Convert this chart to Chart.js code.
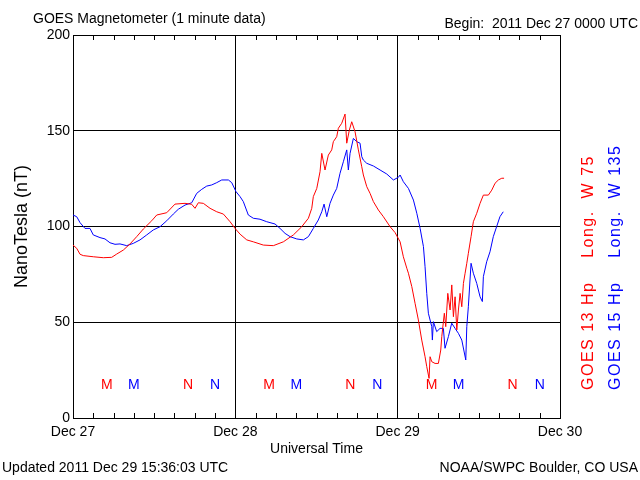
<!DOCTYPE html>
<html lang="en">
<head>
  <meta charset="UTF-8">
  <title>GOES Magnetometer</title>
  <style>
    body {
      margin: 0;
      background: white;
    }

    #wrap {
      position: relative;
      width: 640px;
      height: 480px;
      font-family: "Liberation Sans", Arial, sans-serif;
      font-size: 14px;
      color: black;
    }

    .txt {
      position: absolute;
      line-height: 16px;
      white-space: pre;
    }

    .side {
      position: absolute;
      font-size: 16px;
      line-height: 18px;
      letter-spacing: 1.5px;
      white-space: pre;
      transform: rotate(-90deg);
      transform-origin: 0 0;
    }
  </style>
</head>
<body>
  <div id="wrap">
    <canvas id="magChart" width="640" height="480"></canvas>
    <div class="txt" style="left:33px; top:10px;">GOES Magnetometer (1 minute data)</div>
    <div class="txt" style="right:2px; top:15px;">Begin:  2011 Dec 27 0000 UTC</div>
    <div class="txt" style="left:2px; top:459px;">Updated 2011 Dec 29 15:36:03 UTC</div>
    <div class="txt" style="right:2px; top:459px;">NOAA/SWPC Boulder, CO USA</div>
    <div class="side" style="left:579px; top:390px; color:#ff0000;">GOES 13 Hp    Long.  W 75</div>
    <div class="side" style="left:606px; top:390px; color:#0000ff;">GOES 15 Hp    Long.  W 135</div>
  </div>

  <script src="https://cdn.jsdelivr.net/npm/chart.js"></script>
  <script>
    // time axis in hours since 2011 Dec 27 0000 UTC
    const dayLabels = ['Dec 27', 'Dec 28', 'Dec 29', 'Dec 30'];

    // GOES 13 Hp (red)
    const hours13 = [0, 0.55, 1.04, 1.52, 3.0, 4.48, 5.72, 6.46, 7.44, 8.43, 9.42, 10.4, 11.64, 12.38, 13.86,
      15.08, 16.56, 17.55, 18.04, 18.53, 19.27, 20.26, 21.25, 22.23, 23.22, 23.96, 24.7, 25.69, 26.66, 28.14,
      29.62, 31.1, 32.58, 33.82, 34.8, 35.3, 35.53, 36.04, 36.52, 36.78, 37.26, 37.75, 38.25, 38.49, 38.99,
      39.23, 39.73, 40.22, 40.47, 40.86, 41.21, 41.7, 42.19, 42.69, 42.93, 43.43, 43.92, 44.41, 45.15, 45.89,
      46.88, 47.62, 48.36, 48.84, 49.35, 49.59, 50.09, 50.57, 51.06, 51.56, 52.05, 52.3, 52.64, 52.79, 53.04,
      53.53, 54.02, 54.37, 54.52, 54.9, 55.11, 55.41, 55.75, 56.0, 56.24, 56.49, 56.74, 56.98, 57.23, 57.48,
      57.72, 57.97, 58.22, 58.45, 58.85, 59.19, 59.69, 60.18, 60.67, 61.41, 61.91, 62.4, 62.89, 63.39, 63.73];
    const nt13 = [90.3, 88.6, 85.5, 84.8, 84.2, 83.7, 83.9, 85.6, 87.7, 90.9, 94.7, 98.7, 103, 106, 107.2,
      111.7, 112.1, 111.6, 109.5, 112.4, 112.1, 109.5, 107.7, 106.5, 102.5, 99, 96, 93, 92, 90.3,
      90, 92, 95.6, 99.9, 104.3, 109.5, 115.6, 119.9, 128.6, 138.2, 129.5, 137.3, 140, 144.3, 146.9,
      151.3, 153.9, 158.7, 143.5, 150.4, 154.7, 149.5, 140, 131.2, 126.9, 120.8, 117.3, 113, 108.6, 105.1,
      99.9, 96.8, 92, 84.2, 78.2, 75.6, 68.6, 59.9, 51.2, 40.7, 32, 26.8, 20.7, 32, 29.4,
      28.5, 28.5, 35.5, 42.5, 54.7, 47.7, 65.1, 56.4, 69.5, 52.9, 63.3, 46, 56.4, 65.1, 58.1,
      70.3, 75.6, 80.8, 86, 94.7, 102.5, 106.9, 112.1, 116.4, 116.4, 119, 122.6, 124.3, 125.2, 125.2];

    // GOES 15 Hp (blue)
    const hours15 = [0, 0.55, 1.04, 1.77, 2.51, 3.0, 3.99, 4.73, 5.47, 6.21, 6.95, 7.94, 8.92, 9.91, 10.9,
      11.87, 12.87, 13.86, 14.83, 15.57, 16.56, 17.55, 18.29, 19.03, 19.77, 20.51, 21.25, 21.99, 22.97, 23.47,
      24.1, 24.7, 25.18, 25.92, 26.66, 27.65, 28.64, 29.87, 30.61, 31.35, 32.09, 33.08, 34.06, 34.8, 35.53,
      36.27, 36.78, 37.12, 37.52, 38.0, 38.49, 38.99, 39.48, 39.97, 40.47, 40.71, 40.96, 41.45, 41.95, 42.44,
      42.69, 42.93, 43.43, 44.41, 45.4, 46.39, 47.37, 48.11, 48.36, 48.84, 49.59, 50.33, 50.83, 51.32, 51.81,
      52.05, 52.3, 52.54, 53.04, 53.13, 53.28, 53.77, 54.27, 54.76, 55.0, 55.5, 55.99, 56.49, 56.98, 57.48,
      58.07, 58.22, 58.45, 58.85, 59.19, 59.69, 60.18, 60.52, 60.67, 61.16, 61.65, 62.14, 62.63, 63.12, 63.61];
    const nt15 = [106, 105.1, 102, 99, 99, 95.6, 94.2, 93.5, 91.5, 90.7, 90.9, 90, 91.2, 93, 95.6,
      98.2, 99.9, 103, 106.5, 109, 111.2, 112.4, 117.3, 119.4, 121.1, 121.7, 122.9, 124.3, 124.3, 122.9,
      118.2, 115.6, 113, 106, 104.3, 103.8, 102.5, 101.3, 99, 96.4, 94.7, 93.5, 93, 94.7, 99,
      103.4, 107.7, 111.7, 105.1, 112.1, 116.4, 119.9, 127.8, 133.8, 140, 129.5, 138.2, 146, 144.3, 143.5,
      136.5, 134.7, 133, 131.6, 129.5, 127.4, 124.3, 125.7, 126.9, 123.4, 119.9, 113.8, 106.9, 99, 89.5,
      79, 65.1, 54.7, 47.7, 40.7, 50.3, 45.1, 46.8, 46.8, 36.4, 42.5, 49.5, 46.8, 44.2, 40.7,
      30.3, 47.7, 58.1, 80.8, 75.6, 70.3, 63.3, 60.8, 73.8, 81.6, 86.8, 94.7, 99.9, 105.1, 107.7];

    // local midnight (M) and noon (N) markers
    const markHours13 = [5, 17, 29, 41, 53, 65];
    const markHours15 = [9, 21, 33, 45, 57, 69];
    const markText = ['M', 'N', 'M', 'N', 'M', 'N'];
    const markLevel = 17;

    const fontFamily = '"Liberation Sans", Arial, sans-serif';

    function toPoints(hours, vals) {
      return hours.map((h, i) => ({ x: h, y: vals[i] }));
    }

    // small inward ticks every 3 hours + M/N letters
    const extras = {
      id: 'extras',
      beforeDatasetsDraw(chart) {
        const ctx = chart.ctx;
        const xs = chart.scales.x, ys = chart.scales.y;
        const area = chart.chartArea;
        ctx.save();
        ctx.strokeStyle = '#000';
        ctx.lineWidth = 1;
        ctx.beginPath();
        for (let h = 3; h < 72; h += 3) {
          if (h % 24 === 0) continue;
          const px = Math.round(xs.getPixelForValue(h)) + 0.5;
          ctx.moveTo(px, area.bottom);
          ctx.lineTo(px, area.bottom - 5);
          ctx.moveTo(px, area.top);
          ctx.lineTo(px, area.top + 5);
        }
        ctx.stroke();

        ctx.font = '14px ' + fontFamily;
        ctx.textAlign = 'center';
        ctx.textBaseline = 'middle';
        const py = ys.getPixelForValue(markLevel);
        markHours13.forEach((h, i) => {
          ctx.fillStyle = '#ff0000';
          ctx.fillText(markText[i], xs.getPixelForValue(h), py);
        });
        markHours15.forEach((h, i) => {
          ctx.fillStyle = '#0000ff';
          ctx.fillText(markText[i], xs.getPixelForValue(h), py);
        });
        ctx.restore();
      }
    };

    const ctx = document.getElementById('magChart').getContext('2d');
    new Chart(ctx, {
      type: 'line',
      data: {
        datasets: [{
          label: 'GOES 13 Hp',
          data: toPoints(hours13, nt13),
          borderColor: '#ff0000',
          borderWidth: 1,
          pointRadius: 0,
          tension: 0
        }, {
          label: 'GOES 15 Hp',
          data: toPoints(hours15, nt15),
          borderColor: '#0000ff',
          borderWidth: 1,
          pointRadius: 0,
          tension: 0
        }]
      },
      options: {
        responsive: false,
        animation: false,
        events: [],
        layout: {
          padding: { top: 35, right: 80, bottom: 22, left: 0 }
        },
        plugins: {
          legend: { display: false },
          tooltip: { enabled: false }
        },
        scales: {
          x: {
            type: 'linear',
            min: 0,
            max: 72,
            afterFit: s => { s.height = 40; },
            ticks: {
              stepSize: 3,
              autoSkip: false,
              maxRotation: 0,
              minRotation: 0,
              padding: 6,
              color: '#000',
              font: { family: fontFamily, size: 14 },
              callback: v => (v % 24 === 0 ? dayLabels[v / 24] : '')
            },
            grid: {
              drawTicks: false,
              lineWidth: 1,
              color: c => (c.tick && c.tick.value % 24 === 0 ? '#000' : 'rgba(0,0,0,0)')
            },
            border: { color: '#000' },
            title: {
              display: true,
              text: 'Universal Time',
              color: '#000',
              padding: 0,
              font: { family: fontFamily, size: 14 }
            }
          },
          y: {
            min: 0,
            max: 200,
            afterFit: s => { s.width = 73; },
            ticks: {
              stepSize: 50,
              padding: 3,
              color: '#000',
              font: { family: fontFamily, size: 14 }
            },
            grid: {
              drawTicks: false,
              color: '#000',
              lineWidth: 1
            },
            border: { color: '#000' },
            title: {
              display: true,
              text: 'NanoTesla (nT)',
              color: '#000',
              padding: { top: 11, bottom: 0 },
              font: { family: fontFamily, size: 18 }
            }
          }
        }
      },
      plugins: [extras]
    });
  </script>
</body>
</html>
